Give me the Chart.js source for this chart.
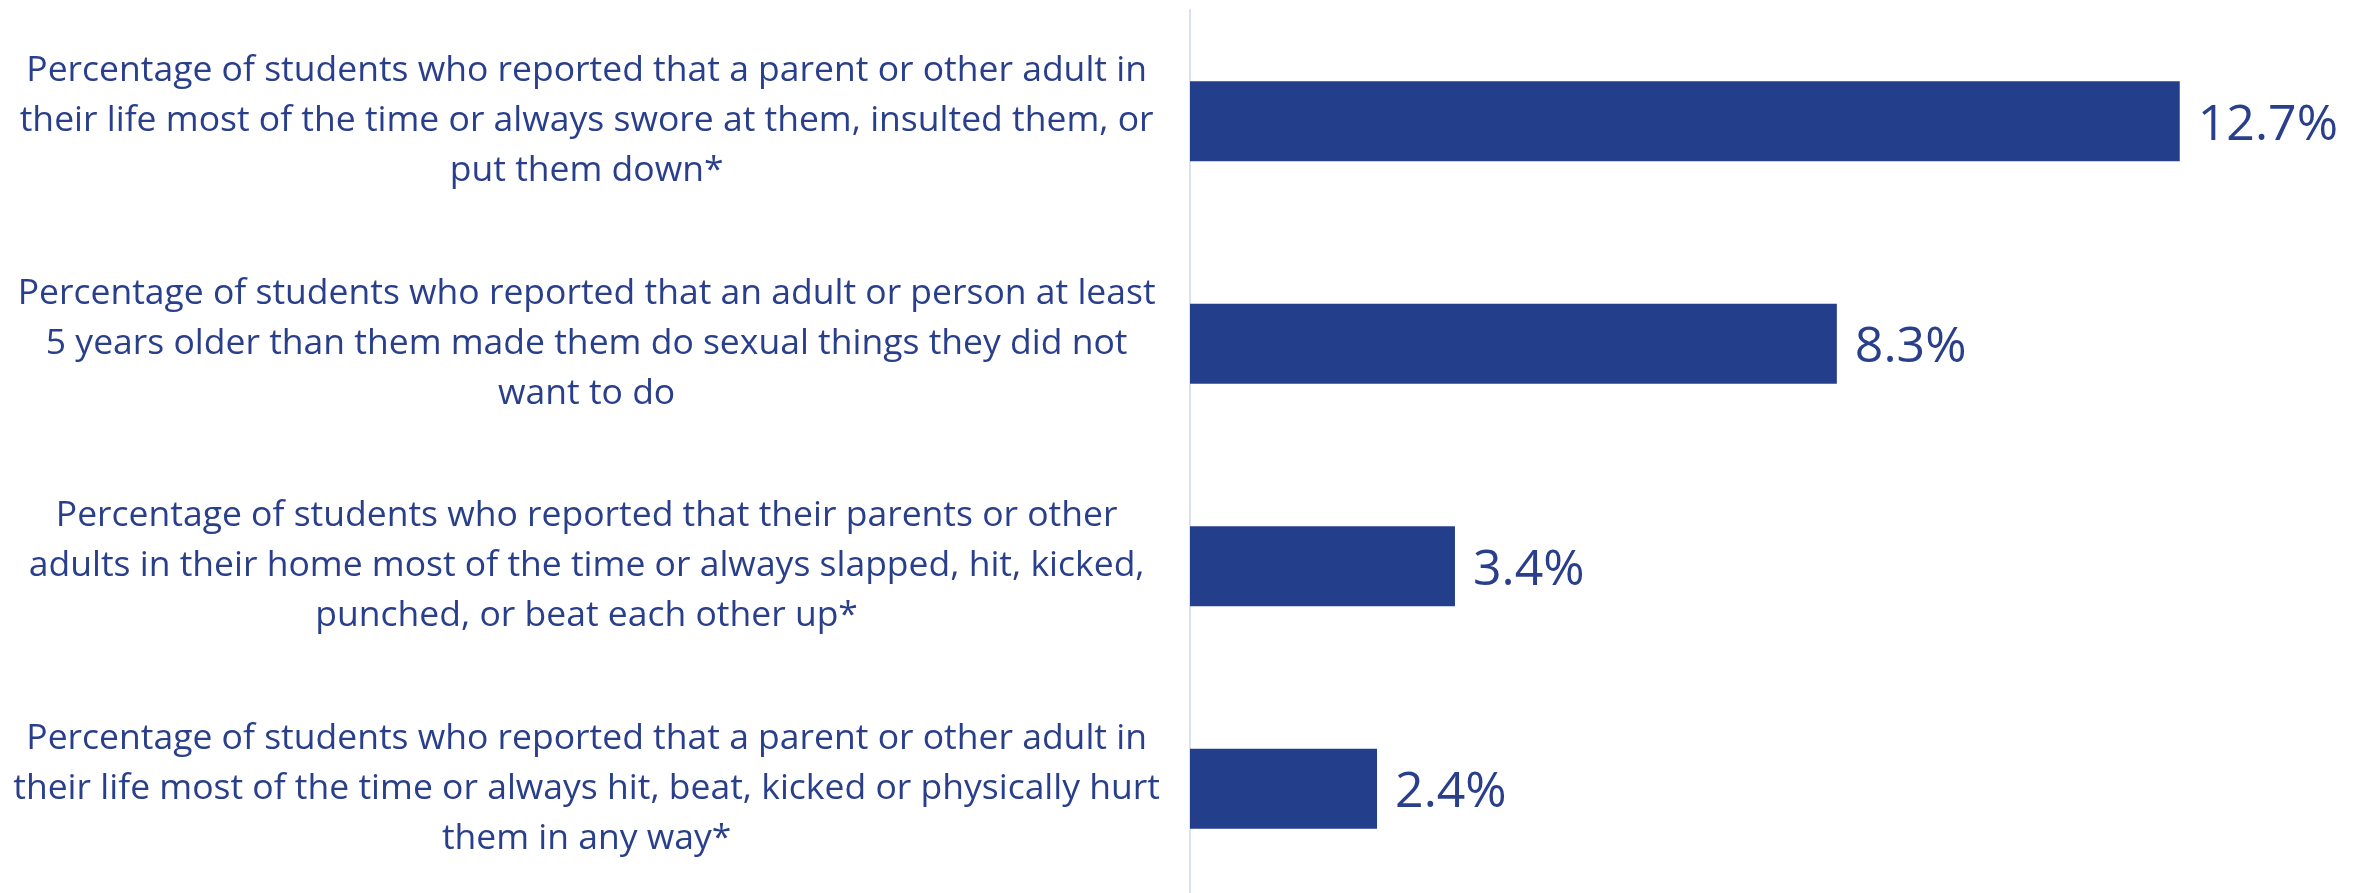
<!DOCTYPE html>
<html>
<head>
<meta charset="utf-8">
<script src="https://cdn.jsdelivr.net/npm/chart.js@4"></script>
<style>
  html, body { margin: 0; padding: 0; background: #ffffff; overflow: hidden; }
  #wrap { position: absolute; left: 0; top: 0; width: 2359px; height: 900px; }
</style>
</head>
<body>
<div id="wrap"><canvas id="c" width="2359" height="900"></canvas></div>
<script>
// ---- data ----
const categories = [
  ["Percentage of students who reported that a parent or other adult in",
   "their life most of the time or always swore at them, insulted them, or",
   "put them down*"],
  ["Percentage of students who reported that an adult or person at least",
   "5 years older than them made them do sexual things they did not",
   "want to do"],
  ["Percentage of students who reported that their parents or other",
   "adults in their home most of the time or always slapped, hit, kicked,",
   "punched, or beat each other up*"],
  ["Percentage of students who reported that a parent or other adult in",
   "their life most of the time or always hit, beat, kicked or physically hurt",
   "them in any way*"]
];
const percentValues = [12.7, 8.3, 3.4, 2.4];
const valueLabels = ["12.7%", "8.3%", "3.4%", "2.4%"];

// ---- styles ----
const BAR_COLOR = "#233E8B";
const TEXT_COLOR = "#2A3F8C";
const AXIS_COLOR = "#D9E1F2";
const FONT = "'Open Sans', 'Noto Sans', sans-serif";

const valueLabelPlugin = {
  id: "valueLabels",
  afterDatasetsDraw(chart) {
    const ctx = chart.ctx;
    const meta = chart.getDatasetMeta(0);
    ctx.save();
    ctx.fillStyle = TEXT_COLOR;
    ctx.font = "50px " + FONT;
    ctx.textAlign = "left";
    ctx.textBaseline = "middle";
    meta.data.forEach((bar, i) => {
      ctx.fillText(valueLabels[i], bar.x + 18, bar.y + 4);
    });
    ctx.restore();
  }
};

new Chart(document.getElementById("c"), {
  type: "bar",
  data: {
    labels: categories,
    datasets: [{
      data: percentValues,
      backgroundColor: BAR_COLOR,
      borderWidth: 0,
      barPercentage: 0.9,
      categoryPercentage: 0.4
    }]
  },
  options: {
    indexAxis: "y",
    responsive: false,
    animation: false,
    devicePixelRatio: 1,
    layout: { padding: { top: 10, right: 0, bottom: 0, left: 0 } },
    plugins: {
      legend: { display: false },
      tooltip: { enabled: false }
    },
    scales: {
      x: {
        display: false,
        min: 0,
        max: 15
      },
      y: {
        afterFit(scale) {
          scale.width = 1190;
          scale.paddingTop = 0;
          scale.paddingBottom = 0;
        },
        grid: { display: false, drawTicks: false },
        border: { display: true, color: AXIS_COLOR, width: 2 },
        ticks: {
          crossAlign: "center",
          padding: 30,
          color: TEXT_COLOR,
          font: { family: FONT, size: 35.5, lineHeight: 1.41 }
        }
      }
    }
  },
  plugins: [valueLabelPlugin]
});
</script>
</body>
</html>
